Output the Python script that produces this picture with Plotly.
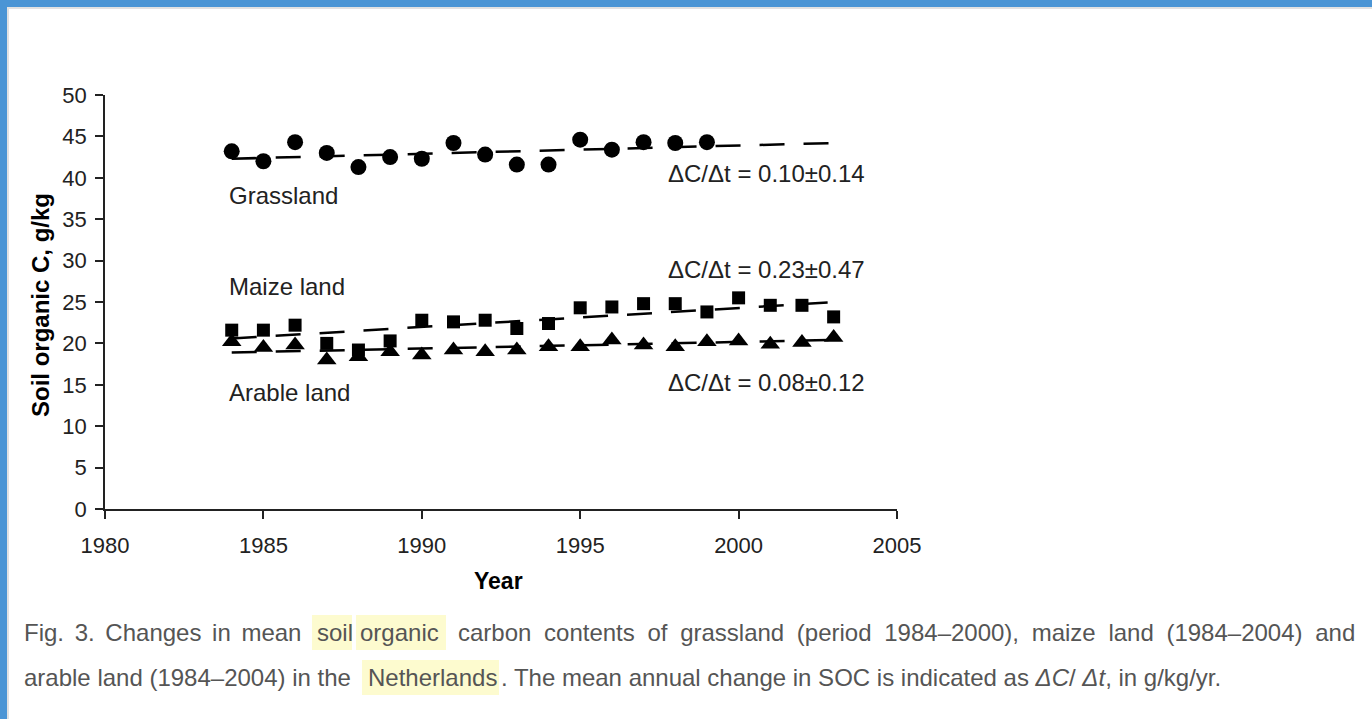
import plotly.graph_objects as go

# ---- data ----
grass_years = list(range(1984, 2000))
grass_soc = [43.2, 42.0, 44.3, 43.0, 41.3, 42.5, 42.3, 44.2, 42.8, 41.6, 41.6, 44.6, 43.4, 44.3, 44.2, 44.3]

crop_years = list(range(1984, 2004))
maize_soc = [21.6, 21.6, 22.2, 20.0, 19.2, 20.3, 22.8, 22.6, 22.8, 21.8, 22.4, 24.3, 24.4, 24.8, 24.8,
             23.8, 25.5, 24.6, 24.6, 23.2]
arable_soc = [20.2, 19.5, 19.8, 18.0, 18.4, 19.0, 18.6, 19.2, 19.0, 19.2, 19.6, 19.6, 20.4, 19.8, 19.6,
              20.2, 20.3, 19.9, 20.1, 20.7]

# linear trends: value in the first year and annual change dC/dt
trend_years = [1984, 2003]
trend_start = {"grass": 42.3, "maize": 20.6, "arable": 18.9}
trend_slope = {"grass": 0.10, "maize": 0.23, "arable": 0.08}
trend_err = {"grass": 0.14, "maize": 0.47, "arable": 0.12}

x_ticks = [1980, 1985, 1990, 1995, 2000, 2005]
y_ticks = list(range(0, 51, 5))

# ---- layout geometry (pixels) ----
W, H = 1372, 719
PL, PR, PT, PB = 105, 897, 95, 509


def fx(p):
    return (p - PL) / (PR - PL)


def fy(p):
    return (PB - p) / (PB - PT)


FONT = "Arial, 'Liberation Sans', Helvetica, sans-serif"
DASH = "25px,19px"

fig = go.Figure()


def trend(key):
    s, k = trend_start[key], trend_slope[key]
    return [s + k * (t - trend_years[0]) for t in trend_years]


for key in ["grass", "maize", "arable"]:
    fig.add_trace(go.Scatter(x=trend_years, y=trend(key), mode="lines",
                             line=dict(color="black", width=2.5, dash=DASH),
                             hoverinfo="skip", showlegend=False))

fig.add_trace(go.Scatter(x=grass_years, y=grass_soc, mode="markers", name="Grassland",
                         marker=dict(symbol="circle", size=16, color="black")))
fig.add_trace(go.Scatter(x=crop_years, y=maize_soc, mode="markers", name="Maize land",
                         marker=dict(symbol="square", size=13, color="black")))
fig.add_trace(go.Scatter(x=crop_years, y=arable_soc, mode="markers", name="Arable land",
                         marker=dict(symbol="triangle-up", size=17, color="black")))

ann = []
# series names
for txt, yv in [("Grassland", 37.9), ("Maize land", 26.9), ("Arable land", 14.1)]:
    ann.append(dict(x=1983.85, y=yv, xref="x", yref="y", text=txt, showarrow=False,
                    xanchor="left", yanchor="middle", font=dict(family=FONT, size=24, color="#222")))
# annual change labels
for key, yv in [("grass", 40.5), ("maize", 28.9), ("arable", 15.3)]:
    txt = "\u0394C/\u0394t = %.2f\u00b1%.2f" % (trend_slope[key], trend_err[key])
    ann.append(dict(x=1997.7, y=yv, xref="x", yref="y", text=txt, showarrow=False,
                    xanchor="left", yanchor="middle", font=dict(family=FONT, size=24, color="#222")))

# axis titles
ann.append(dict(x=fx(40), y=fy(305), xref="paper", yref="paper", text="<b>Soil organic C, g/kg</b>",
                textangle=-90, showarrow=False, xanchor="center", yanchor="middle",
                font=dict(family=FONT, size=24, color="black")))
ann.append(dict(x=fx(498), y=fy(581), xref="paper", yref="paper", text="<b>Year</b>",
                showarrow=False, xanchor="center", yanchor="middle",
                font=dict(family=FONT, size=23, color="black")))

# figure caption, split where words are highlighted; first line is justified (wider word gaps)
CAP = dict(family=FONT, size=24, color="#555")
WIDE = " \u2005"
caption = [
    (22, 632, "Fig. 3. Changes in mean".replace(" ", " \u2006")),
    (315, 632, "soil"),
    (358, 632, "organic"),
    (456, 632, "carbon contents of grassland (period 1984\u20132000), maize land (1984\u20132004) and".replace(" ", WIDE)),
    (22, 677, "arable land (1984\u20132004) in the"),
    (366, 677, "Netherlands"),
    (499, 677, ". The mean annual change in SOC is indicated as <i>\u0394C</i>/ <i>\u0394t</i>, in g/kg/yr."),
]
for px, py, txt in caption:
    ann.append(dict(x=fx(px), y=fy(py), xref="paper", yref="paper", text=txt, showarrow=False,
                    xanchor="left", yanchor="middle", font=CAP))

shapes = []
# highlighted words in the caption
for x0, x1, y0, y1 in [(312, 352, 615, 650), (356, 446, 615, 650), (362, 499, 660, 695)]:
    shapes.append(dict(type="rect", xref="paper", yref="paper", x0=fx(x0), x1=fx(x1), y0=fy(y1), y1=fy(y0),
                       fillcolor="#fdfbcf", line=dict(width=0), layer="below"))
# page frame
shapes.append(dict(type="rect", xref="paper", yref="paper", x0=fx(0), x1=fx(W), y0=fy(7), y1=fy(0),
                   fillcolor="#4b95d5", line=dict(width=0)))
shapes.append(dict(type="rect", xref="paper", yref="paper", x0=fx(0), x1=fx(7), y0=fy(H), y1=fy(0),
                   fillcolor="#4b95d5", line=dict(width=0)))
shapes.append(dict(type="rect", xref="paper", yref="paper", x0=fx(7), x1=fx(W), y0=fy(9), y1=fy(7),
                   fillcolor="#e2e2e2", line=dict(width=0)))
shapes.append(dict(type="rect", xref="paper", yref="paper", x0=fx(7), x1=fx(9), y0=fy(H), y1=fy(7),
                   fillcolor="#e2e2e2", line=dict(width=0)))

fig.update_layout(
    width=W, height=H,
    margin=dict(l=PL, r=W - PR, t=PT, b=H - PB),
    paper_bgcolor="white", plot_bgcolor="white",
    showlegend=False,
    annotations=ann, shapes=shapes,
    xaxis=dict(range=[1980, 2005], tickvals=x_ticks, ticks="outside", ticklen=8, tickwidth=1.5,
               tickcolor="#222", showline=True, linecolor="#222", linewidth=1.5, showgrid=False,
               zeroline=False, ticklabelstandoff=8, tickfont=dict(family=FONT, size=22, color="#222")),
    yaxis=dict(range=[0, 50], tickvals=y_ticks, ticks="outside", ticklen=8, tickwidth=1.5,
               tickcolor="#222", showline=True, linecolor="#222", linewidth=1.5, showgrid=False,
               zeroline=False, ticklabelstandoff=4, tickfont=dict(family=FONT, size=22, color="#222")),
)

fig.write_html("out.html")
